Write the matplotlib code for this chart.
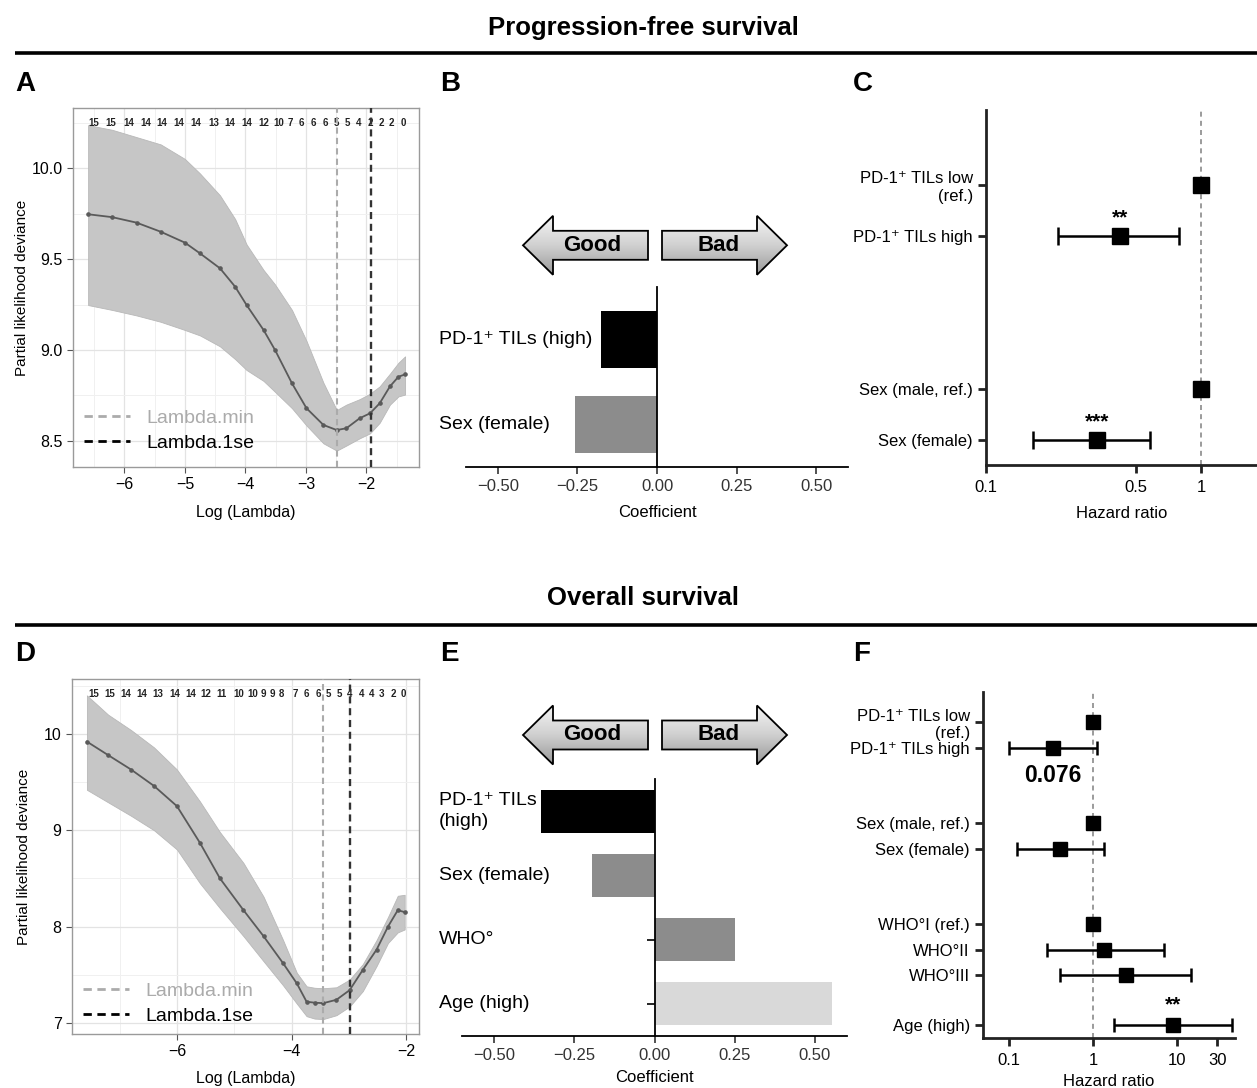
import numpy as np
import matplotlib
matplotlib.use('Agg')
import matplotlib.pyplot as plt
from matplotlib import transforms
from matplotlib.lines import Line2D
from matplotlib.patches import Polygon
from matplotlib.colors import LinearSegmentedColormap
from matplotlib.ticker import NullLocator, MultipleLocator

plt.rcParams['font.family'] = ['Liberation Sans', 'DejaVu Sans']
NARROW = ['Liberation Sans Narrow', 'Liberation Sans', 'DejaVu Sans']

W, H = 1257, 1088

# ---------------- Progression-free survival ----------------
# A: cross-validated partial likelihood deviance
pfs_loglam = [-6.60, -6.20, -5.80, -5.40, -5.00, -4.75, -4.42, -4.17, -3.98, -3.70, -3.51,
              -3.23, -2.99, -2.71, -2.49, -2.33, -2.11, -1.94, -1.78, -1.61, -1.47, -1.36]
pfs_dev = [9.746, 9.73, 9.70, 9.65, 9.59, 9.531, 9.449, 9.348, 9.247, 9.11, 9.0,
           8.817, 8.68, 8.588, 8.56, 8.57, 8.625, 8.652, 8.707, 8.80, 8.853, 8.866]
pfs_dev_hi = [10.236, 10.21, 10.17, 10.13, 10.05, 9.97, 9.85, 9.72, 9.58, 9.44, 9.36,
              9.22, 9.05, 8.82, 8.67, 8.70, 8.73, 8.76, 8.80, 8.87, 8.93, 8.965]
pfs_dev_lo = [9.247, 9.22, 9.19, 9.155, 9.11, 9.08, 9.02, 8.95, 8.89, 8.83, 8.77,
              8.68, 8.585, 8.487, 8.447, 8.475, 8.515, 8.542, 8.60, 8.70, 8.745, 8.755]
pfs_lam_min, pfs_lam_1se = -2.49, -1.93
pfs_df_pos = [-6.51, -6.22, -5.93, -5.65, -5.38, -5.10, -4.82, -4.53, -4.25, -3.98, -3.69, -3.45,
              -3.26, -3.07, -2.88, -2.68, -2.50, -2.32, -2.13, -1.94, -1.76, -1.58, -1.39]
pfs_df = [15, 15, 14, 14, 14, 14, 14, 13, 14, 14, 12, 10, 7, 6, 6, 6, 5, 5, 4, 2, 2, 2, 0]

# B: coefficients
pfs_coef_names = ['PD-1\u207a TILs (high)', 'Sex (female)']
pfs_coef = [-0.175, -0.259]
pfs_coef_colors = ['black', '#8c8c8c']

# C: hazard ratios
pfs_hr_names = ['PD-1\u207a TILs low\n(ref.)', 'PD-1\u207a TILs high', 'Sex (male, ref.)', 'Sex (female)']
pfs_hr_pos = [6, 5, 2, 1]
pfs_hr = [1.0, 0.42, 1.0, 0.327]
pfs_hr_lo = [1.0, 0.217, 1.0, 0.166]
pfs_hr_hi = [1.0, 0.79, 1.0, 0.58]
pfs_hr_stars = ['', '**', '', '***']

# ---------------- Overall survival ----------------
# D
os_loglam = [-7.57, -7.20, -6.80, -6.40, -6.00, -5.60, -5.25, -4.84, -4.49, -4.15, -3.91,
             -3.74, -3.60, -3.45, -3.22, -2.99, -2.76, -2.52, -2.32, -2.15, -2.03]
os_dev = [9.92, 9.78, 9.63, 9.46, 9.25, 8.87, 8.50, 8.17, 7.90, 7.62, 7.41,
          7.22, 7.21, 7.205, 7.24, 7.34, 7.55, 7.76, 8.00, 8.17, 8.15]
os_dev_hi = [10.40, 10.20, 10.04, 9.86, 9.63, 9.30, 8.98, 8.66, 8.31, 7.86, 7.52,
             7.38, 7.365, 7.36, 7.37, 7.45, 7.61, 7.86, 8.10, 8.32, 8.33]
os_dev_lo = [9.42, 9.29, 9.15, 9.00, 8.80, 8.45, 8.19, 7.90, 7.64, 7.39, 7.20,
             7.07, 7.045, 7.04, 7.08, 7.17, 7.33, 7.59, 7.83, 7.94, 7.97]
os_lam_min, os_lam_1se = -3.45, -2.99
os_df_pos = [-7.45, -7.17, -6.90, -6.62, -6.33, -6.04, -5.76, -5.49, -5.22, -4.93, -4.67, -4.49, -4.34,
             -4.17, -3.94, -3.74, -3.54, -3.36, -3.17, -2.99, -2.78, -2.61, -2.43, -2.23, -2.06]
os_df = [15, 15, 14, 14, 13, 14, 14, 12, 11, 10, 10, 9, 9, 8, 7, 6, 6, 5, 5, 4, 4, 4, 3, 2, 0]

# E
os_coef_names = ['PD-1\u207a TILs\n(high)', 'Sex (female)', 'WHO\u00b0', 'Age (high)']
os_coef = [-0.354, -0.196, 0.25, 0.552]
os_coef_colors = ['black', '#8c8c8c', '#8c8c8c', '#d9d9d9']

# F
os_hr_names = ['PD-1\u207a TILs low\n(ref.)', 'PD-1\u207a TILs high', 'Sex (male, ref.)', 'Sex (female)',
               'WHO\u00b0I (ref.)', 'WHO\u00b0II', 'WHO\u00b0III', 'Age (high)']
os_hr_pos = [13, 12, 9, 8, 5, 4, 3, 1]
os_hr = [1.0, 0.33, 1.0, 0.41, 1.0, 1.36, 2.45, 9.0]
os_hr_lo = [1.0, 0.10, 1.0, 0.124, 1.0, 0.28, 0.40, 1.78]
os_hr_hi = [1.0, 1.12, 1.0, 1.35, 1.0, 7.06, 14.7, 44.8]
os_hr_stars = ['', '', '', '', '', '', '', '**']
os_pd1_p = '0.076'


def rect(l, t, r, b):
    return [l / W, 1 - b / H, (r - l) / W, (b - t) / H]


def cv_panel(ax, x, dev, lo, hi, lmin, l1se, df_pos, df, xlim, ylim, xstep, ystep, yfmt,
             ylabelpad, xlabelpad, legend_y):
    ax.fill_between(x, lo, hi, facecolor='#c6c6c6', edgecolor='#b8b8b8', lw=0.6, zorder=2)
    ax.plot(x, dev, color='#5a5a5a', lw=1.3, marker='o', ms=2.3, zorder=3)
    ax.axvline(lmin, color='#ababab', ls=(0, (3, 2)), lw=1.5, zorder=4)
    ax.axvline(l1se, color='#333333', ls=(0, (3, 2)), lw=1.7, zorder=4)
    ax.set_xlim(*xlim)
    ax.set_ylim(*ylim)
    ax.xaxis.set_major_locator(MultipleLocator(xstep))
    ax.xaxis.set_minor_locator(MultipleLocator(xstep / 2))
    ax.yaxis.set_major_locator(MultipleLocator(ystep))
    ax.yaxis.set_minor_locator(MultipleLocator(ystep / 2))
    ax.yaxis.set_major_formatter(yfmt)
    ax.grid(which='major', color='#e3e3e3', lw=0.9, zorder=0)
    ax.grid(which='minor', color='#f0f0f0', lw=0.7, zorder=0)
    ax.set_axisbelow(True)
    for s in ax.spines.values():
        s.set_color('#9a9a9a')
        s.set_linewidth(1.0)
    ax.tick_params(which='major', labelsize=11.5, color='#555555', length=4)
    ax.tick_params(which='minor', length=0)
    ax.set_xlabel('Log (Lambda)', fontsize=11.5, labelpad=xlabelpad)
    ax.set_ylabel('Partial likelihood deviance', fontsize=11, labelpad=ylabelpad)
    tr = transforms.blended_transform_factory(ax.transData, ax.transAxes)
    for p, d in zip(df_pos, df):
        ax.text(p, 0.957, str(d), transform=tr, ha='center', va='center',
                fontsize=7, fontweight='bold', color='#222222')
    handles = [Line2D([], [], color='#ababab', ls=(0, (3, 2)), lw=2),
               Line2D([], [], color='black', ls=(0, (3, 2)), lw=2)]
    ax.legend(handles, ['Lambda.min', 'Lambda.1se'], loc='lower left', frameon=False,
              fontsize=14, handlelength=2.4, handletextpad=0.8, borderaxespad=0.15,
              labelspacing=0.4, labelcolor=['#ababab', 'black'],
              bbox_to_anchor=(0, legend_y))


def coef_panel(fig, ax, names, vals, colors, ylim, xlabelpad):
    pos = np.arange(len(vals), 0, -1)
    ax.barh(pos, vals, height=0.667, color=colors, zorder=3)
    ax.set_xlim(-0.6, 0.6)
    ax.set_ylim(*ylim)
    ax.spines['top'].set_visible(False)
    ax.spines['right'].set_visible(False)
    ax.spines['left'].set_position(('data', 0))
    for s in ('left', 'bottom'):
        ax.spines[s].set_linewidth(1.3)
        ax.spines[s].set_zorder(4)
    ax.set_yticks(pos)
    ax.set_yticklabels([''] * len(pos))
    ax.tick_params(axis='y', length=5.5, width=1.2)
    ticks = [-0.5, -0.25, 0, 0.25, 0.5]
    ax.set_xticks(ticks)
    ax.set_xticklabels([f'{t:.2f}'.replace('-', '\u2212') for t in ticks])
    ax.tick_params(axis='x', labelsize=12, length=5, width=1.2, colors='#333333')
    ax.set_xlabel('Coefficient', fontsize=12, labelpad=xlabelpad)
    tr = transforms.blended_transform_factory(fig.transFigure, ax.transData)
    for p, n in zip(pos, names):
        ax.text(439 / W, p, n, transform=tr, ha='left', va='center', fontsize=14,
                linespacing=1.35)


def hr_panel(ax, names, pos, hr, lo, hi, stars, xlim, ylim, xticks, xlabels, ms, cap, star_dy,
             xlabelpad):
    hr, lo, hi, pos = map(np.asarray, (hr, lo, hi, pos))
    ax.axvline(1, color='#8a8a8a', ls=(0, (3, 2.5)), lw=1.2, zorder=1)
    ci = hi > lo
    ax.errorbar(hr[ci], pos[ci], xerr=[hr[ci] - lo[ci], hi[ci] - hr[ci]], fmt='none',
                ecolor='black', elinewidth=1.8, capsize=cap, capthick=1.8, zorder=2)
    ax.plot(hr, pos, 's', color='black', ms=ms, zorder=3)
    for h, p, s in zip(hr, pos, stars):
        if s:
            ax.text(h, p + star_dy, s, ha='center', va='center', fontsize=15, fontweight='bold')
    ax.set_xscale('log')
    ax.set_xlim(*xlim)
    ax.set_ylim(*ylim)
    ax.set_xticks(xticks)
    ax.set_xticklabels(xlabels)
    ax.xaxis.set_minor_locator(NullLocator())
    ax.set_yticks(pos)
    ax.set_yticklabels(names, ha='right')
    for s in ('top', 'right'):
        ax.spines[s].set_visible(False)
    for s in ('left', 'bottom'):
        ax.spines[s].set_linewidth(2)
        ax.spines[s].set_color('#222222')
    ax.tick_params(labelsize=12, length=6, width=2, color='#222222')
    ax.tick_params(axis='x', pad=5)
    ax.set_xlabel('Hazard ratio', fontsize=12, labelpad=xlabelpad)


fig = plt.figure(figsize=(W / 100, H / 100), dpi=100)

axA = fig.add_axes(rect(73, 108, 419, 467))
cv_panel(axA, pfs_loglam, pfs_dev, pfs_dev_lo, pfs_dev_hi, pfs_lam_min, pfs_lam_1se,
         pfs_df_pos, pfs_df, (-6.85, -1.13), (8.357, 10.33), 1, 0.5, '{x:.1f}', 2, 9, 0.012)

axB = fig.add_axes(rect(466, 287, 848, 467))
coef_panel(fig, axB, pfs_coef_names, pfs_coef, pfs_coef_colors, (0.5, 2.62), 8)

axC = fig.add_axes(rect(986, 110, 1257, 465))
hr_panel(axC, pfs_hr_names, pfs_hr_pos, pfs_hr, pfs_hr_lo, pfs_hr_hi, pfs_hr_stars,
         (0.1, 1.82), (0.51, 7.47), [0.1, 0.5, 1], ['0.1', '0.5', '1'], 11, 6.8, 0.36, 8)

axD = fig.add_axes(rect(72, 679, 419, 1034))
cv_panel(axD, os_loglam, os_dev, os_dev_lo, os_dev_hi, os_lam_min, os_lam_1se,
         os_df_pos, os_df, (-7.83, -1.78), (6.885, 10.57), 2, 1, '{x:.0f}', 9, 8, -0.005)
axD.xaxis.set_minor_locator(MultipleLocator(1))

axE = fig.add_axes(rect(462, 779, 847, 1036))
coef_panel(fig, axE, os_coef_names, os_coef, os_coef_colors, (0.5, 4.5), 5)

axF = fig.add_axes(rect(983, 692, 1235, 1038))
hr_panel(axF, os_hr_names, os_hr_pos, os_hr, os_hr_lo, os_hr_hi, os_hr_stars,
         (0.049, 49), (0.5, 14.2), [0.1, 1, 10, 30], ['0.1', '1', '10', '30'], 9.5, 5, 0.8, 4)
axF.text(os_hr[1], os_hr_pos[1] - 1.1, os_pd1_p, ha='center', va='center',
         fontsize=16.5, fontweight='bold')

# overlay in pixel units for titles, rules, letters and the Good/Bad arrows
ov = fig.add_axes([0, 0, 1, 1])
ov.axis('off')
cmap = LinearSegmentedColormap.from_list('arr', ['#f4f4f4', '#d0d0d0', '#9a9a9a'])
grad = np.linspace(0, 1, 64).reshape(-1, 1)


def arrow(yc, x_base, x_tip, x_neck, label):
    bh, hh = 14.5, 29.5
    pts = [(x_base, yc - bh), (x_neck, yc - bh), (x_neck, yc - hh), (x_tip, yc),
           (x_neck, yc + hh), (x_neck, yc + bh), (x_base, yc + bh)]
    poly = Polygon(pts, closed=True, facecolor='none', edgecolor='black', lw=1.3, zorder=3)
    ov.add_patch(poly)
    im = ov.imshow(grad, cmap=cmap, aspect='auto', origin='upper',
                   extent=(min(x_base, x_tip), max(x_base, x_tip), yc + hh, yc - hh), zorder=2)
    im.set_clip_path(poly)
    ov.text(x_base + 0.45 * (x_tip - x_base), yc, label, ha='center', va='center',
            fontsize=16, fontweight='bold', zorder=4)


for yc in (245.3, 735):
    arrow(yc, 648, 523, 553, 'Good')
    arrow(yc, 662, 787, 757, 'Bad')

for ty, ly, title in ((28, 53, 'Progression-free survival'), (598, 625, 'Overall survival')):
    ov.text(643, ty, title, ha='center', va='center', fontsize=18.5,
            fontweight='bold', family=NARROW)
    ov.plot([15, W], [ly, ly], color='black', lw=2.6, solid_capstyle='butt')

for x, y, letter in ((15, 84, 'A'), (440, 84, 'B'), (853, 84, 'C'),
                     (15, 654, 'D'), (440, 654, 'E'), (853, 654, 'F')):
    ov.text(x, y, letter, ha='left', va='center', fontsize=20, fontweight='bold', family=NARROW)

ov.set_xlim(0, W)
ov.set_ylim(H, 0)

fig.savefig('out.png', dpi=100)
